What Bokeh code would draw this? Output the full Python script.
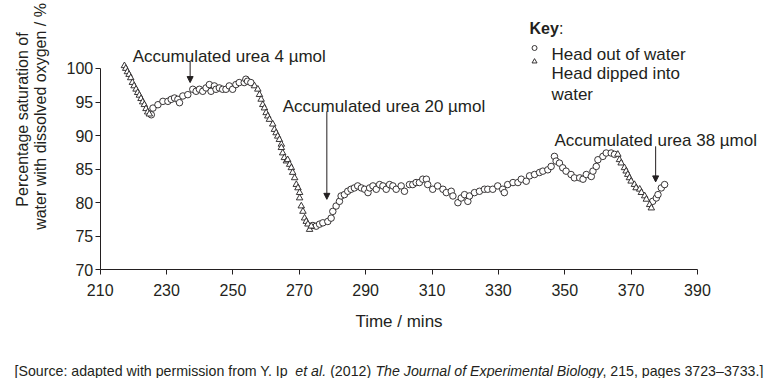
from math import pi
from bokeh.plotting import figure
from bokeh.models import Range1d, Label, Arrow, NormalHead, FixedTicker
from bokeh.embed import file_html
from bokeh.resources import INLINE

# ---------------- data ----------------
# Head out of water (circles)
out_time = [
    225.4, 225.9, 227.4, 228.9, 230.4, 231.4, 232.4, 233.4, 233.9, 234.9,
    236.4, 237.9, 238.9, 239.9, 240.9, 241.9, 242.9, 243.4, 244.4, 244.9,
    245.9, 246.9, 247.9, 248.9, 249.9, 250.9, 251.9, 253.4, 253.9, 254.4,
    255.4,
    274.1, 275.1, 276.1, 277.1, 278.6, 279.6, 280.1, 281.1, 282.1, 282.6,
    283.6, 284.6, 285.6, 286.6, 287.6, 288.7, 289.7, 290.7, 291.2, 292.2,
    293.2, 294.2, 295.2, 296.2, 297.2, 298.2, 299.2, 300.7, 301.7, 303.2,
    304.2, 305.2, 306.2, 307.2, 308.3, 308.7, 310.2, 311.7, 313.3, 314.3,
    315.8, 316.3, 317.8, 318.8, 319.8, 320.8, 321.3, 322.8, 324.3, 325.8,
    326.8, 328.3, 329.8, 331.3, 331.8, 332.8, 334.4, 335.9, 336.9, 338.4,
    339.4, 340.9, 342.4, 343.4, 344.9, 345.9, 346.9, 347.4, 348.4, 349.4,
    350.4, 351.9, 352.9, 354.5, 355.5, 356.5, 358.0, 358.5, 359.5, 360.0,
    361.5, 362.5, 364.0, 365.0,
    376.5, 377.6, 378.1, 379.1, 380.1,
]
out_pct = [
    93.1, 94.1, 94.6, 95.1, 95.1, 95.4, 95.6, 95.4, 94.9, 95.9,
    96.1, 96.9, 96.6, 96.9, 96.6, 97.1, 97.6, 96.6, 97.4, 96.9,
    97.1, 96.9, 96.9, 97.4, 96.9, 97.6, 97.9, 97.9, 98.4, 98.1,
    97.9,
    76.6, 76.5, 76.8, 77.0, 77.2, 77.7, 78.7, 79.5, 80.2, 81.0,
    81.2, 81.7, 82.0, 82.2, 82.5, 82.2, 82.0, 81.5, 82.2, 82.5,
    82.0, 82.7, 82.5, 82.0, 82.7, 82.5, 82.0, 82.5, 81.7, 82.7,
    82.7, 83.0, 83.0, 83.5, 83.5, 82.7, 82.0, 82.5, 82.0, 81.5,
    81.7, 81.0, 80.0, 80.7, 81.2, 80.2, 81.0, 81.5, 81.7, 82.0,
    82.0, 82.0, 82.5, 82.0, 81.5, 82.7, 83.0, 83.0, 83.5, 83.2,
    84.0, 84.2, 84.5, 84.7, 84.9, 85.4, 86.9, 86.2, 85.9, 85.2,
    84.7, 84.2, 83.7, 83.7, 83.5, 84.2, 83.9, 84.7, 85.4, 86.4,
    86.9, 87.4, 87.4, 87.2,
    80.2, 80.7, 81.2, 82.2, 82.7,
]
# Head dipped into water (triangles)
dip_time = [
    217.3, 217.7, 218.2, 218.7, 219.2, 219.7, 220.2, 220.8, 221.3, 221.8,
    222.3, 222.8, 223.3, 223.8, 224.3, 224.8,
    256.5, 257.5, 258.0, 258.5, 259.0, 259.5, 260.0, 260.5, 261.0, 262.0,
    262.5, 263.0, 263.5, 264.0, 264.6, 264.6, 265.0, 265.5, 266.1, 266.5,
    267.1, 267.6, 268.0, 268.6, 269.1, 269.6, 270.1, 270.1, 270.6, 271.1,
    271.6, 272.1, 272.6, 273.1, 273.6,
    366.0, 366.5, 367.0, 368.0, 368.5, 369.0, 369.5, 370.0, 371.0, 371.5,
    372.6, 373.1, 374.1, 374.6, 375.6, 376.1,
]
dip_pct = [
    100.4, 100.0, 99.5, 99.1, 98.6, 97.9, 97.4, 96.9, 96.4, 96.0,
    95.5, 95.0, 94.6, 94.0, 93.5, 93.2,
    97.4, 96.9, 96.1, 95.4, 94.6, 94.1, 93.4, 92.9, 92.4, 91.7,
    90.9, 90.4, 89.9, 89.4, 88.7, 88.2, 87.4, 86.7, 86.2, 86.4,
    85.7, 85.2, 84.5, 83.7, 82.7, 82.2, 81.5, 80.7, 79.5, 78.7,
    77.7, 77.2, 76.8, 76.0, 76.5,
    87.2, 86.4, 85.9, 85.2, 84.7, 84.2, 83.7, 83.2, 82.7, 82.2,
    82.0, 81.5, 81.0, 80.5, 79.7, 79.2,
]
x_ticks = [210, 230, 250, 270, 290, 310, 330, 350, 370, 390]
y_ticks = [70, 75, 80, 85, 90, 95, 100]

# urea annotations: text, arrow time, arrow top, arrow tip
urea_text = ["Accumulated urea 4 µmol", "Accumulated urea 20 µmol", "Accumulated urea 38 µmol"]
urea_time = [237.1, 278.3, 377.4]
urea_top = [101.0, 93.6, 88.4]
urea_tip = [97.9, 80.5, 83.1]
urea_label_x = [219.8, 265.0, 346.9]
urea_label_y = [101.8, 94.4, 89.2]

FONT = "Liberation Sans"
INK = "#231f20"

# whole canvas is the frame; axes sit at fixed data locations
p = figure(width=768, height=378, title=None,
           min_border_left=0, min_border_right=0, min_border_top=0, min_border_bottom=0,
           x_range=Range1d(179.95, 411.41), y_range=Range1d(53.80, 110.13),
           output_backend="svg", toolbar_location=None)
p.xgrid.visible = False
p.ygrid.visible = False
p.outline_line_color = None
p.background_fill_color = "white"
p.border_fill_color = "white"

for ax in (p.xaxis[0], p.yaxis[0]):
    ax.axis_line_color = INK
    ax.axis_line_width = 1
    ax.major_tick_line_color = INK
    ax.major_tick_out = 5
    ax.major_tick_in = 0
    ax.minor_tick_out = 0
    ax.minor_tick_in = 0
    ax.major_label_text_font = FONT
    ax.major_label_text_font_size = "16px"
    ax.major_label_text_color = INK

p.xaxis.ticker = FixedTicker(ticks=x_ticks)
p.xaxis.bounds = (210, 390)
p.xaxis.fixed_location = 70
p.xaxis.major_label_standoff = 9
p.xaxis.axis_label = "Time / mins"
p.xaxis.axis_label_text_font = FONT
p.xaxis.axis_label_text_font_style = "normal"
p.xaxis.axis_label_text_font_size = "17px"
p.xaxis.axis_label_text_color = INK
p.xaxis.axis_label_standoff = 13

p.yaxis.ticker = FixedTicker(ticks=y_ticks)
p.yaxis.bounds = (70, 100)
p.yaxis.fixed_location = 210
p.yaxis.major_label_standoff = 2

# data
p.scatter(out_time, out_pct, marker="circle", size=6.5, fill_color="white",
          line_color=INK, line_width=0.9)
p.scatter(dip_time, dip_pct, marker="triangle", size=6.5, fill_color="white",
          line_color=INK, line_width=0.9)


def lab(x, y, text, size="17px", style="normal", align="left", baseline="alphabetic", angle=0):
    p.add_layout(Label(x=x, y=y, text=text, text_font=FONT, text_font_size=size,
                       text_font_style=style, text_color=INK, text_align=align,
                       text_baseline=baseline, angle=angle))


# y axis title (two lines, rotated)
lab(186.58, 92.40, "Percentage saturation of", size="16px", align="center", baseline="middle", angle=pi / 2)
lab(192.00, 92.85, "water with dissolved oxygen / %", size="16px", align="center", baseline="middle", angle=pi / 2)

# urea annotations
for txt, t, top, tip, lx, ly in zip(urea_text, urea_time, urea_top, urea_tip, urea_label_x, urea_label_y):
    lab(lx, ly, txt)
    p.add_layout(Arrow(x_start=t, y_start=top, x_end=t, y_end=tip,
                       line_color=INK, line_width=1,
                       end=NormalHead(size=6, fill_color=INK, line_color=INK, line_width=1)))

# key
lab(339.4, 105.9, "Key", size="16px", style="bold")
lab(348.3, 105.9, ":", size="16px")
p.scatter([340.9], [103.05], marker="circle", size=5, fill_color="white", line_color=INK, line_width=0.9)
p.scatter([340.9], [101.04], marker="triangle", size=5, fill_color="white", line_color=INK, line_width=0.9)
lab(346.0, 102.04, "Head out of water")
lab(346.0, 99.2, "Head dipped into")
lab(346.0, 96.07, "water")

# source line
sy = 54.92
sz = "14.2px"
lab(184.17, sy, "[Source: adapted with permission from Y. Ip", size=sz)
lab(268.80, sy, "et al.", size=sz, style="italic")
lab(279.30, sy, "(2012)", size=sz)
lab(292.95, sy, "The Journal of Experimental Biology", size=sz, style="italic")
lab(361.35, sy, ", 215, pages 3723–3733.]", size=sz)

open("out.html", "w").write(file_html(p, INLINE))
